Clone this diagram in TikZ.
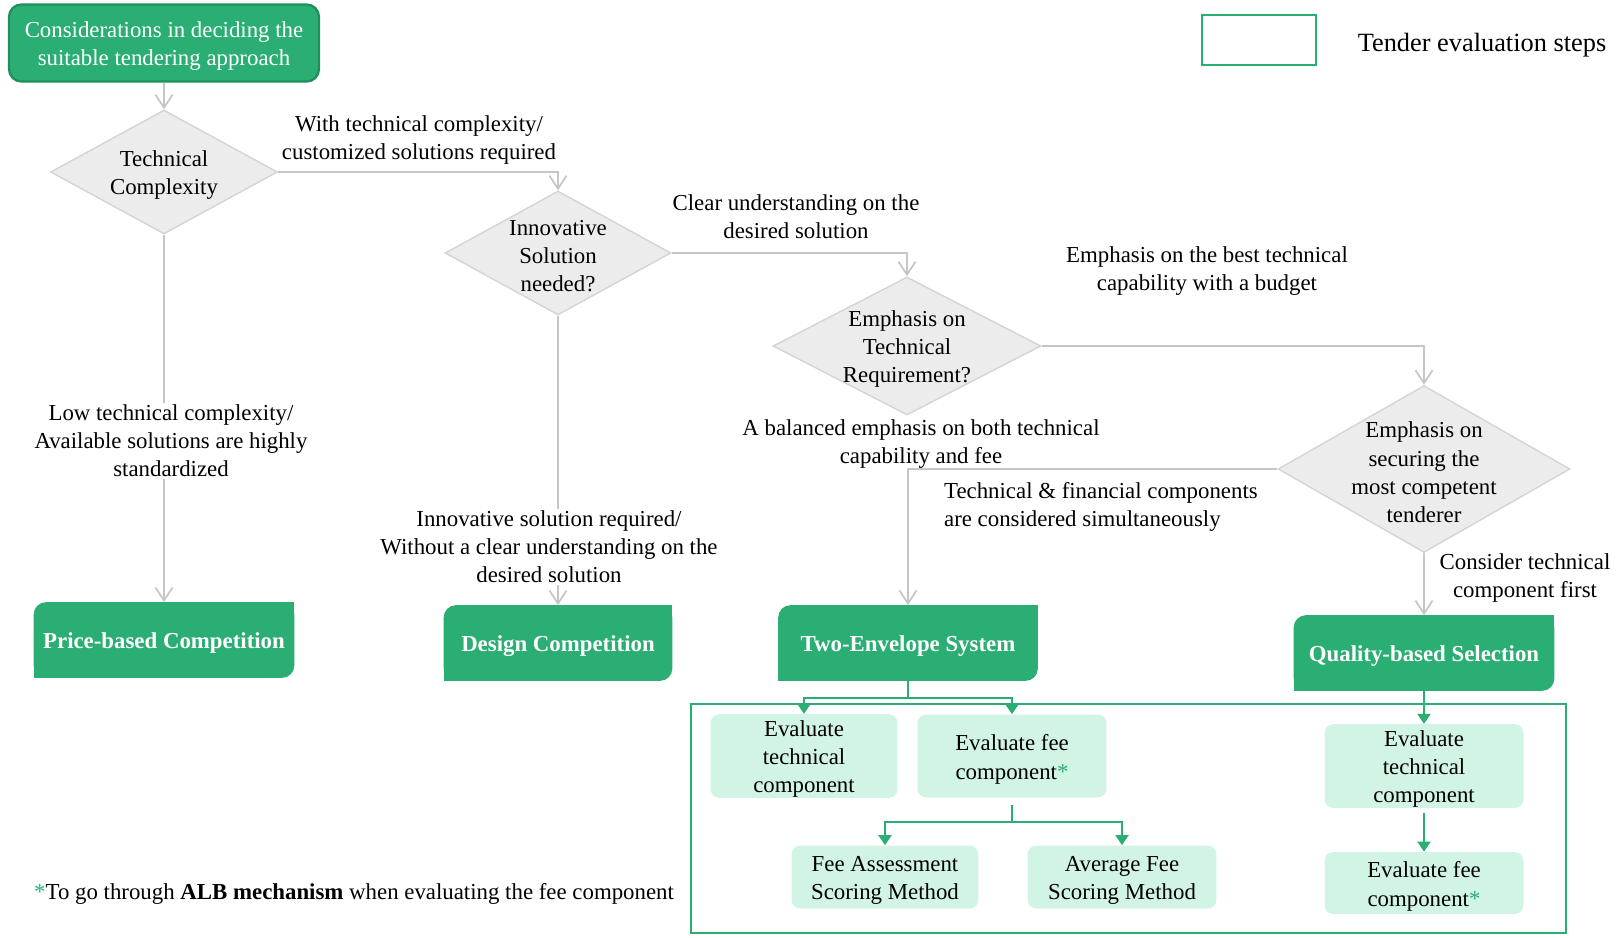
\documentclass[tikz,border=0pt]{standalone}
\usepackage{fontspec}
\setmainfont{Liberation Serif}
\usetikzlibrary{shapes.geometric,arrows.meta,backgrounds}

\definecolor{tgreen}{HTML}{2BAE74}
\definecolor{tdark}{HTML}{1F8F5C}
\definecolor{tmint}{HTML}{D2F4E4}
\definecolor{tgrayline}{HTML}{C6C6C6}
\definecolor{tgrayfill}{HTML}{ECECEC}
\definecolor{tgrayedge}{HTML}{D4D4D4}
\newcommand{\greenast}{\textcolor{tgreen}{*}}

\begin{document}
\begin{tikzpicture}[x=0.02cm, y=-0.02cm,
    every node/.style={font=\fontsize{13}{16}\selectfont},
    lowtext/.style={execute at begin node={\vbox\bgroup\vskip3.8pt\hbox\bgroup}, execute at end node={\egroup\egroup}},
    startbox/.style={rectangle, rounded corners=7pt, fill=tgreen, draw=tdark, line width=1.3pt, text=white, align=center, minimum width=6.2cm, minimum height=1.54cm, inner sep=2pt, lowtext},
    decision/.style={diamond, fill=tgrayfill, draw=tgrayedge, line width=0.8pt, align=center, inner sep=-12pt, aspect=1.8, lowtext},
    tenderbox/.style={rectangle, text=white, font=\fontsize{13}{16}\selectfont\bfseries, minimum height=1.5cm, text height=10.7pt, text depth=1pt},
    stepbox/.style={rectangle, rounded corners=5pt, fill=tmint, align=center, inner xsep=1pt, inner ysep=0pt, lowtext},
    legendbox/.style={rectangle, draw=tgreen, line width=1.2pt, minimum width=2.28cm, minimum height=1.0cm},
    edgelabel/.style={align=center, inner sep=1pt},
    flow/.style={draw=tgrayline, line width=1pt, -{Straight Barb[length=2.6mm, width=3.4mm]}},
    gline/.style={draw=tgreen, line width=1.2pt},
    gflow/.style={gline, -{Triangle[length=2mm, width=2.6mm]}},
    frameline/.style={draw=tgreen, line width=1.2pt}
]
    \useasboundingbox (0,0) rectangle (1619,937);

    % Decision chain
    \node[startbox] (start) at (164,43) {Considerations in deciding the\\suitable tendering approach};
    \node[decision, minimum width=4.54cm, minimum height=2.48cm] (cplx) at (164,172) {Technical\\Complexity};
    \node[decision, minimum width=4.52cm, minimum height=2.48cm] (innov) at (558,253) {Innovative\\Solution\\needed?};
    \node[decision, minimum width=5.36cm, minimum height=2.76cm] (techreq) at (907,346) {Emphasis on\\Technical\\Requirement?};
    \node[decision, minimum width=5.84cm, minimum height=3.34cm] (compet) at (1424,469) {Emphasis on\\securing the\\most competent\\tenderer};

    % Tendering approaches
    \node[tenderbox, minimum width=5.2cm] (price) at (164,640) {Price-based Competition};
    \node[tenderbox, minimum width=4.56cm] (design) at (558,643) {Design Competition};
    \node[tenderbox, minimum width=5.18cm] (twoenv) at (908,643) {Two-Envelope System};
    \node[tenderbox, minimum width=5.2cm] (quality) at (1424,653) {Quality-based Selection};

    % Tender evaluation steps
    \draw[frameline] (691,704) rectangle (1566,933);
    \node[stepbox, minimum width=3.74cm, minimum height=1.66cm] (evtech) at (804,756) {Evaluate\\technical\\component};
    \node[stepbox, minimum width=3.78cm, minimum height=1.66cm] (evfee) at (1012,756) {Evaluate fee\\component\greenast};
    \node[stepbox, minimum width=3.74cm, minimum height=1.26cm] (feeassess) at (885,877) {Fee Assessment\\Scoring Method};
    \node[stepbox, minimum width=3.78cm, minimum height=1.26cm] (avgfee) at (1122,877) {Average Fee\\Scoring Method};
    \node[stepbox, minimum width=3.98cm, minimum height=1.66cm] (evtechq) at (1424,766) {Evaluate\\technical\\component};
    \node[stepbox, minimum width=3.98cm, minimum height=1.24cm] (evfeeq) at (1424,883) {Evaluate fee\\component\greenast};

    % Legend and note
    \node[legendbox] (legend) at (1259,40) {};
    \node[font=\fontsize{15}{18}\selectfont] (legendtext) at (1482,45) {Tender evaluation steps};
    \node[anchor=west] (note) at (28,894) {\greenast To go through \textbf{ALB mechanism} when evaluating the fee component};

    % Grey connectors
    \draw[flow] (start.south) -- (cplx.north);
    \draw[flow] (cplx.east) -| (innov.north);
    \draw[flow] (cplx.south) -- (price.north);
    \draw[flow] (innov.east) -| (techreq.north);
    \draw[flow] (innov.south) -- (design.north);
    \draw[flow] (techreq.east) -| (compet.north);
    \draw[flow] (compet.west) -| (twoenv.north);
    \draw[flow] (compet.south) -- (quality.north);

    % Green connectors
    \coordinate (twosplit) at (908,698);
    \draw[gline] (twoenv.south) -- (twosplit);
    \draw[gflow] (twosplit) -| (evtech.north);
    \draw[gflow] (twosplit) -| (evfee.north);
    \coordinate (feesplit) at (1012,822);
    \draw[gline, shorten <=4pt] (evfee.south) -- (feesplit);
    \draw[gflow] (feesplit) -| (feeassess.north);
    \draw[gflow] (feesplit) -| (avgfee.north);
    \draw[gflow] (quality.south) -- (evtechq.north);
    \draw[gflow, shorten <=3pt] (evtechq.south) -- (evfeeq.north);

    % Edge labels
    \node[edgelabel] (lcustom) at (419,140) {With technical complexity/\\customized solutions required};
    \node[edgelabel, fill=white] (lstandard) at (171,441) {Low technical complexity/\\Available solutions are highly\\standardized};
    \node[edgelabel] (lclear) at (796,217) {Clear understanding on the\\desired solution};
    \node[edgelabel, fill=white] (linnov) at (549,547) {Innovative solution required/\\Without a clear understanding on the\\desired solution};
    \node[edgelabel] (lbudget) at (1207,271) {Emphasis on the best technical\\capability with a budget};
    \node[edgelabel] (lbalance) at (921,444) {A balanced emphasis on both technical\\capability and fee};
    \node[edgelabel, anchor=west, align=left] (lsimul) at (942,507) {Technical \& financial components\\are considered simultaneously};
    \node[edgelabel] (lfirst) at (1525,578) {Consider technical\\component first};

    % Diagonal-rounded fills of the approach boxes
    \begin{scope}[on background layer]
        \foreach \n in {price,design,twoenv,quality}{
            \fill[tgreen, rounded corners=7pt] (\n.south west) rectangle (\n.north east);
            \fill[tgreen] (\n.north east) rectangle ([xshift=-9pt,yshift=-9pt]\n.north east);
            \fill[tgreen] (\n.south west) rectangle ([xshift=9pt,yshift=9pt]\n.south west);
        }
    \end{scope}
\end{tikzpicture}
\end{document}
